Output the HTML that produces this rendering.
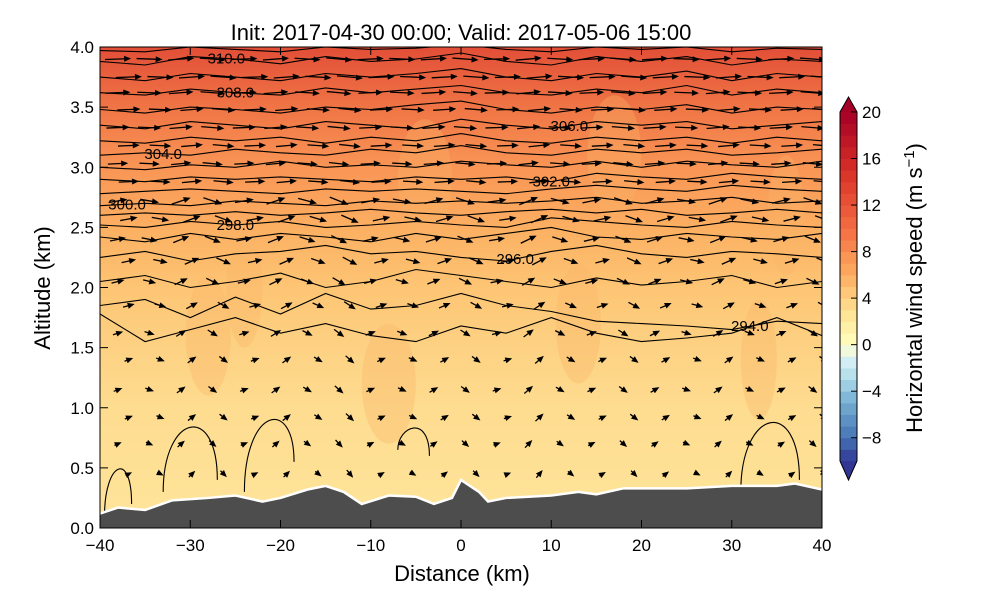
<!DOCTYPE html>
<html><head><meta charset="utf-8"><style>
body{margin:0;background:#fff;font-family:"Liberation Sans",sans-serif}
svg text{font-family:"Liberation Sans",sans-serif}
</style></head><body>
<svg id="c" width="1000" height="600" xmlns="http://www.w3.org/2000/svg">
<defs>
<linearGradient id="wsg" x1="0" y1="1" x2="0" y2="0">
<stop offset="0" stop-color="#fee59a"/><stop offset="0.25" stop-color="#fedc90"/>
<stop offset="0.4" stop-color="#fdcf80"/><stop offset="0.5" stop-color="#fdc574"/>
<stop offset="0.62" stop-color="#fcb062"/><stop offset="0.75" stop-color="#f99555"/>
<stop offset="0.87" stop-color="#f07646"/><stop offset="1" stop-color="#e24e37"/>
</linearGradient>
<clipPath id="pc"><rect x="100" y="47" width="722" height="481"/></clipPath>
</defs>
<text x="461" y="40" font-size="22" text-anchor="middle">Init: 2017-04-30 00:00; Valid: 2017-05-06 15:00</text>
<g clip-path="url(#pc)">
<rect x="100" y="47" width="722" height="481" fill="url(#wsg)"/>
<g id="patches"></g>
<g id="isen"></g>
<g id="quiv"></g>
<g id="terr"></g>
</g>
<rect x="100" y="47" width="722" height="481" fill="none" stroke="#000" stroke-width="1"/>
<g id="axes"></g>
<g id="cbar"></g>
<text x="462" y="581" font-size="22" text-anchor="middle">Distance (km)</text>
<text transform="translate(50,288) rotate(-90)" font-size="22" text-anchor="middle">Altitude (km)</text>
<text transform="translate(922,288) rotate(-90)" font-size="22" text-anchor="middle">Horizontal wind speed (m s<tspan dy="-8" font-size="15">−1</tspan><tspan dy="8">)</tspan></text>
</svg>
<script>
const NS="http://www.w3.org/2000/svg";
const xTicks=[-40,-30,-20,-10,0,10,20,30,40];
const yTicks=[0.0,0.5,1.0,1.5,2.0,2.5,3.0,3.5,4.0];
const cbTicks=[-8,-4,0,4,8,12,16,20];
const terrX=[-40,-38,-35,-32,-28,-25,-22,-20,-17,-15,-13,-11,-8,-5,-3,-1,0,2,3,5,10,13,15,18,25,30,35,37,40];
const terrZ=[0.12,0.17,0.15,0.23,0.25,0.27,0.22,0.25,0.32,0.35,0.30,0.20,0.27,0.26,0.20,0.25,0.40,0.30,0.22,0.25,0.27,0.30,0.28,0.33,0.33,0.35,0.35,0.37,0.32];
const isoX=[-40,-35,-30,-25,-20,-15,-10,-5,0,5,10,15,20,25,30,35,40];
const isoLevels=[293,294,295,296,297,298,299,300,301,302,303,304,305,306,307,308,309,310,311];
const isoZ=[
[1.78,1.55,1.65,1.75,1.62,1.70,1.60,1.55,1.68,1.62,1.75,1.62,1.55,1.58,1.62,1.75,1.60],
[1.85,1.90,1.75,1.92,1.78,1.95,1.82,1.85,1.95,1.85,1.80,1.72,1.70,1.68,1.65,1.72,1.70],
[2.05,2.10,2.00,2.05,2.12,2.00,2.05,2.15,2.10,2.05,2.00,2.08,2.02,2.05,2.10,2.00,2.05],
[2.25,2.30,2.22,2.28,2.30,2.35,2.28,2.30,2.25,2.22,2.30,2.35,2.28,2.25,2.30,2.28,2.25],
[2.42,2.38,2.45,2.40,2.45,2.42,2.38,2.45,2.40,2.45,2.50,2.42,2.40,2.45,2.42,2.40,2.45],
[2.52,2.50,2.55,2.52,2.55,2.50,2.52,2.55,2.52,2.50,2.58,2.55,2.52,2.50,2.55,2.52,2.50],
[2.60,2.62,2.60,2.63,2.60,2.62,2.65,2.62,2.60,2.63,2.65,2.62,2.65,2.60,2.62,2.65,2.62],
[2.68,2.70,2.68,2.72,2.70,2.68,2.72,2.70,2.72,2.70,2.72,2.75,2.70,2.72,2.75,2.70,2.72],
[2.78,2.80,2.82,2.80,2.78,2.82,2.80,2.82,2.80,2.78,2.82,2.85,2.82,2.80,2.85,2.82,2.80],
[2.90,2.88,2.92,2.90,2.92,2.90,2.88,2.92,2.90,2.92,2.88,2.95,2.92,2.90,2.95,2.92,2.90],
[3.00,2.98,3.02,3.00,3.05,3.00,3.02,3.00,3.05,3.02,3.00,3.05,3.00,3.05,3.02,3.00,3.05],
[3.10,3.12,3.10,3.15,3.12,3.10,3.15,3.12,3.18,3.12,3.10,3.15,3.12,3.15,3.10,3.12,3.15],
[3.22,3.20,3.25,3.22,3.25,3.20,3.25,3.22,3.28,3.22,3.20,3.25,3.22,3.25,3.20,3.25,3.22],
[3.35,3.32,3.38,3.35,3.32,3.38,3.35,3.32,3.40,3.35,3.32,3.38,3.35,3.38,3.32,3.35,3.38],
[3.48,3.45,3.50,3.48,3.45,3.50,3.48,3.52,3.55,3.48,3.45,3.50,3.48,3.52,3.45,3.50,3.48],
[3.62,3.60,3.65,3.62,3.60,3.66,3.62,3.65,3.68,3.62,3.60,3.65,3.62,3.68,3.60,3.65,3.62],
[3.75,3.72,3.78,3.75,3.72,3.78,3.75,3.78,3.82,3.75,3.72,3.78,3.75,3.80,3.72,3.78,3.75],
[3.88,3.85,3.92,3.90,3.86,3.92,3.88,3.90,3.95,3.88,3.85,3.92,3.88,3.92,3.85,3.90,3.88],
[3.97,3.96,4.00,3.98,3.96,4.00,3.98,3.99,4.02,3.98,3.96,4.00,3.98,4.00,3.96,3.99,3.98]];
const isoLabelLevels=[294,296,298,300,302,304,306,308,310];
const isoLabelX=[32,6,-25,-37,10,-33,12,-25,-26];
const rowZ=[3.90,3.75,3.62,3.48,3.33,3.18,3.03,2.88,2.72,2.57,2.40,2.22,2.05,1.85,1.62,1.40,1.15,0.92,0.70,0.45];
const rowU=[9,9,8.5,8,8,7.5,7,7,6.5,6,5.5,5,4.5,4,3.5,3,3,2.8,2.5,2.2];
const colX=[-38,-34.5,-31,-27.5,-24,-20.5,-17,-13.5,-10,-6.5,-3,0.5,4,7.5,11,14.5,18,21.5,25,28.5,32,35.5,39];
const colV=[0.5,-0.5,1,-1,0.5,1,-0.8,-1.2,0.6,-0.6,0.8,-1,0.4,1.2,-0.8,0.6,-1,0.8,-0.5,1,-0.6,0.7,-1];
const patchX=[-28,-24,-8,13,33,36,-4,17];
const patchZ=[1.6,2.0,1.2,1.7,1.4,2.6,2.9,3.1];
const patchR=[2.5,2,3,2.5,2,2,3,3];

const X=v=>100+(v+40)*722/80, Y=z=>528-z*481/4;
function el(t,a,p){const e=document.createElementNS(NS,t);for(const k in a)e.setAttribute(k,a[k]);p.appendChild(e);return e;}
const stops=[[-10,[49,54,149]],[-8,[69,117,180]],[-5,[116,173,209]],[-3,[171,217,233]],[-1,[224,243,248]],[0,[255,255,191]],[3,[254,224,144]],[6,[253,174,97]],[10,[244,109,67]],[15,[215,48,39]],[20,[165,0,38]]];
function cmap(v){for(let i=0;i<stops.length-1;i++){const[a,ca]=stops[i],[b,cb]=stops[i+1];if(v<=b){const t=(v-a)/(b-a);return`rgb(${ca.map((c,j)=>Math.round(c+(cb[j]-c)*t)).join(',')})`;}}return'rgb(165,0,38)';}

const pg=document.getElementById('patches');
patchX.forEach((px,i)=>{const e=el('ellipse',{cx:X(px),cy:Y(patchZ[i]),rx:patchR[i]*9,ry:60,fill:'#f9b468',opacity:0.35},pg);

});

const ig=document.getElementById('isen');
isoLevels.forEach((lv,i)=>{let d='';isoX.forEach((x,j)=>{d+=(j?'L':'M')+X(x).toFixed(1)+','+Y(isoZ[i][j]).toFixed(1);});
const p=el('path',{d,fill:'none',stroke:'#000','stroke-width':1.1},ig);

});
const loops=[[-39.5,0.1,-38,0.55,-36.5,0.2],[-33,0.3,-29,0.95,-27,0.4],[-24,0.3,-21,1.0,-18.5,0.55],[-7,0.65,-5,0.85,-3.5,0.6],[31,0.3,34,1.0,37.5,0.4]];
loops.forEach(l=>{const d=`M${X(l[0])},${Y(l[1])} C${X(l[0])},${Y(l[3])} ${X(l[4])},${Y(l[3]+0.1)} ${X(l[4])},${Y(l[5])}`;
const p=el('path',{d,fill:'none',stroke:'#000','stroke-width':1.1},ig);

});
isoLabelLevels.forEach((lv,i)=>{const k=isoLevels.indexOf(lv),x=isoLabelX[i];
let j=0;while(j<isoX.length-2&&isoX[j+1]<x)j++;const t=(x-isoX[j])/(isoX[j+1]-isoX[j]);const z=isoZ[k][j]+(isoZ[k][j+1]-isoZ[k][j])*t;
const tx=el('text',{x:X(x),y:Y(z)+5,'font-size':15,'text-anchor':'middle'},ig);tx.textContent=lv.toFixed(1);

});

const qg=document.getElementById('quiv');
rowZ.forEach((z,r)=>{colX.forEach((x,c)=>{const u=rowU[r],v=colV[c]*(r<8?0.3:1.0);
const s=2.9;const x0=X(x+(r%2?1.2:0)),y0=Y(z);const dx=u*s,dy=-v*s*2.2;
const ang=Math.atan2(dy,dx)*180/Math.PI,len=Math.hypot(dx,dy);
const g=el('g',{transform:`translate(${x0-dx/2},${y0-dy/2}) rotate(${ang})`},qg);


el('line',{x1:0,y1:0,x2:len-5,y2:0,stroke:'#000','stroke-width':1.3},g);
el('polygon',{points:`${len},0 ${len-7},-3 ${len-7},3`,fill:'#000'},g);});});

const tg=document.getElementById('terr');
let d=`M${X(-40)},${Y(0)}`;terrX.forEach((x,i)=>d+=`L${X(x)},${Y(terrZ[i])}`);d+=`L${X(40)},${Y(0)}Z`;
const tp=el('path',{d,fill:'#4d4d4d'},tg);
let d2='';terrX.forEach((x,i)=>d2+=(i?'L':'M')+X(x)+','+Y(terrZ[i]));
const tl=el('path',{d:d2,fill:'none',stroke:'#fff','stroke-width':2.5},tg);

const ag=document.getElementById('axes');
xTicks.forEach(v=>{el('line',{x1:X(v),x2:X(v),y1:528,y2:520,stroke:'#000'},ag);el('line',{x1:X(v),x2:X(v),y1:47,y2:55,stroke:'#000'},ag);
const t=el('text',{x:X(v),y:551,'font-size':17,'text-anchor':'middle'},ag);t.textContent=v<0?'−'+(-v):v;
});
yTicks.forEach(v=>{el('line',{x1:100,x2:108,y1:Y(v),y2:Y(v),stroke:'#000'},ag);el('line',{x1:822,x2:814,y1:Y(v),y2:Y(v),stroke:'#000'},ag);
const t=el('text',{x:94,y:Y(v)+6,'font-size':17,'text-anchor':'end'},ag);t.textContent=v.toFixed(1);
});

const cg=document.getElementById('cbar');const CY=v=>461-(v+10)*(461-112)/30;
for(let v=-10;v<20;v++){const r=el('rect',{x:840,y:CY(v+1),width:17,height:CY(v)-CY(v+1)+0.5,fill:cmap(v+0.5)},cg);
}
el('polygon',{points:`840,112 857,112 848.5,97`,fill:cmap(20)},cg);
el('polygon',{points:`840,461 857,461 848.5,480`,fill:cmap(-10)},cg);
el('path',{d:'M840,112 L848.5,97 L857,112 L857,461 L848.5,480 L840,461Z',fill:'none',stroke:'#000'},cg);
cbTicks.forEach(v=>{el('line',{x1:851,x2:857,y1:CY(v),y2:CY(v),stroke:'#000'},cg);
const t=el('text',{x:862,y:CY(v)+6,'font-size':17},cg);t.textContent=v<0?'−'+(-v):v;
});
</script>
</body></html>
